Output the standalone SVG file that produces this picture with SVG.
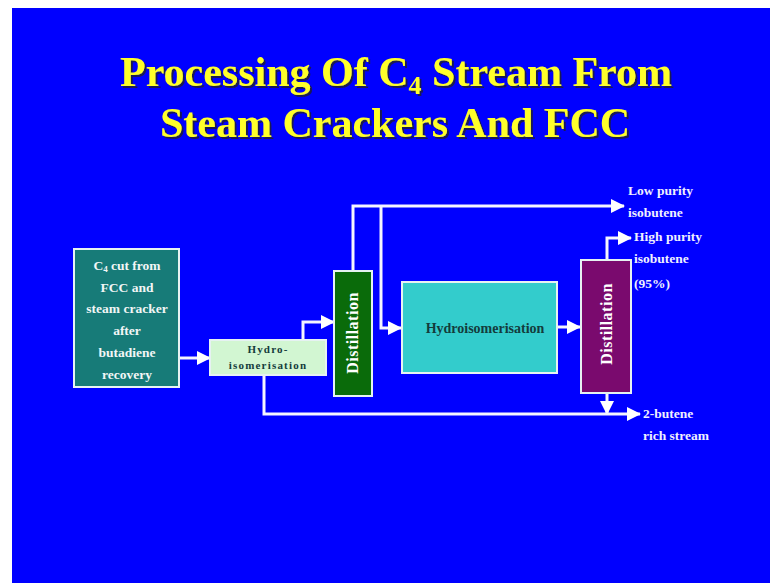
<svg xmlns="http://www.w3.org/2000/svg" width="770" height="583" viewBox="0 0 770 583">
<defs>
<marker id="ah" viewBox="0 0 14 14" refX="13" refY="7" markerWidth="14" markerHeight="14" markerUnits="userSpaceOnUse" orient="auto">
<path d="M0,0 L14,7 L0,14 Z" fill="#ffffff"/>
</marker>
<filter id="sh" x="-5%" y="-20%" width="110%" height="140%">
<feDropShadow dx="2" dy="2" stdDeviation="0.6" flood-color="#1a1a40" flood-opacity="0.9"/>
</filter>
<style>
.bg{fill:#0000ff}
.title{font-family:"Liberation Serif",serif;font-weight:bold;font-size:42px;text-anchor:middle;fill:#ffff2a;filter:url(#sh)}
.box{stroke:#e6f2f2;stroke-width:2}
.wt{font-family:"Liberation Serif",serif;font-weight:bold;fill:#f2f6f6;font-size:13.5px;text-anchor:middle}
.lab{font-family:"Liberation Serif",serif;font-weight:bold;fill:#f0f0ff;font-size:13.5px}
.dk{font-family:"Liberation Serif",serif;font-weight:bold;fill:#143c3c;text-anchor:middle}
.vt{font-family:"Liberation Serif",serif;font-weight:bold;fill:#ffffff;font-size:16px;letter-spacing:0.5px;text-anchor:middle}
.la{fill:none;stroke:#f4f4ff;stroke-width:3;marker-end:url(#ah)}
</style>
</defs>
<rect class="bg" x="12" y="8" width="758" height="575"/>

<g id="title">
<text class="title" x="396" y="86">Processing Of C<tspan font-size="26" dy="8">4</tspan><tspan dy="-8"> Stream From</tspan></text>
<text class="title" x="395" y="137">Steam Crackers And FCC</text>
</g>

<g id="connectors">
<line class="la" x1="180" y1="358" x2="210" y2="358"/>
<polyline class="la" points="303,340 303,322 334,322"/>
<polyline class="la" points="353,271 353,206 624,206"/>
<polyline class="la" points="381,206 381,328 401,328"/>
<line class="la" x1="558" y1="327" x2="580" y2="327"/>
<polyline class="la" points="607,260 607,238 631,238"/>
<line class="la" x1="607" y1="394" x2="607" y2="414"/>
<polyline class="la" points="264,376 264,414 640,414"/>
</g>

<g id="feed">
<rect class="box" x="74" y="249" width="105" height="138" fill="#177b78"/>
<text class="wt" x="127" y="270">C<tspan font-size="9" dy="2">4</tspan><tspan dy="-2"> cut from</tspan></text>
<text class="wt" x="127" y="292">FCC and</text>
<text class="wt" x="127" y="313">steam cracker</text>
<text class="wt" x="127" y="335">after</text>
<text class="wt" x="127" y="357">butadiene</text>
<text class="wt" x="127" y="379">recovery</text>
</g>

<g id="hydro1">
<rect class="box" x="210" y="340" width="116" height="35" fill="#d2f6d2"/>
<text class="dk" x="268" y="353" font-size="11" letter-spacing="1.2">Hydro-</text>
<text class="dk" x="268" y="369" font-size="11" letter-spacing="1.2">isomerisation</text>
</g>

<g id="distil1">
<rect class="box" x="334" y="271" width="38" height="125" fill="#0a6b0a"/>
<text class="vt" transform="translate(358,333) rotate(-90)">Distillation</text>
</g>

<g id="hydro2">
<rect class="box" x="402" y="282" width="155" height="91" fill="#33cccc"/>
<text class="dk" x="485" y="333" font-size="14">Hydroisomerisation</text>
</g>

<g id="distil2">
<rect class="box" x="581" y="260" width="50" height="133" fill="#7a0a6e"/>
<text class="vt" transform="translate(612,324) rotate(-90)">Distillation</text>
</g>

<g id="labels">
<text class="lab" x="628" y="195">Low purity</text>
<text class="lab" x="628" y="217">isobutene</text>
<text class="lab" x="634" y="241">High purity</text>
<text class="lab" x="634" y="263">isobutene</text>
<text class="lab" x="634" y="288">(95%)</text>
<text class="lab" x="643" y="418">2-butene</text>
<text class="lab" x="643" y="440">rich stream</text>
</g>
</svg>
